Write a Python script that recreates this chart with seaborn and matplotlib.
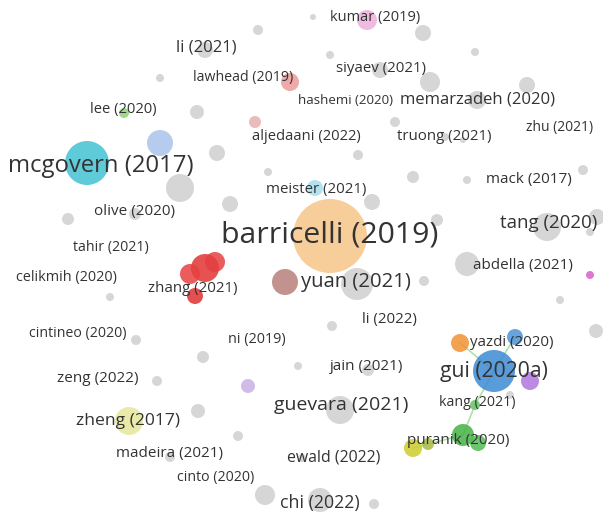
import pandas as pd
import seaborn as sns
from matplotlib import pyplot as plt

# nodes of the map: position (map units), radius, colour
node_x = [258, 313, 367, 423, 475, 205, 160, 290, 330, 380, 430, 527, 477, 395,
          124, 197, 255, 160, 87, 217, 180, 230, 268, 315, 358, 445, 463, 413,
          467, 583, 372, 68, 135, 330, 437, 547, 597, 357, 285, 424, 467, 590,
          110, 136, 203, 298, 332, 596, 248, 157, 198, 129, 238, 170, 265, 320,
          374, 302, 340, 368, 460, 515, 494, 530, 475, 463, 478, 413, 428,
          205, 190, 195, 215, 510, 590, 560]
node_y = [30, 17, 20, 33, 52, 50, 78, 82, 55, 70, 82, 85, 100, 122,
          113, 112, 122, 143, 163, 153, 188, 204, 172, 188, 155, 137, 140, 177,
          180, 170, 202, 219, 214, 236, 220, 227, 217, 284, 282, 281, 264, 275,
          297, 340, 357, 366, 326, 331, 386, 381, 411, 421, 436, 457, 495, 500,
          504, 458, 410, 370, 343, 337, 371, 381, 405, 435, 443, 448, 444,
          268, 274, 296, 262, 395, 232, 300]
node_r = [5, 3, 10, 8, 4, 8, 4, 9, 4, 8, 10, 8, 9, 5,
          5, 7, 6, 13, 22, 8, 14, 8, 4, 8, 5, 4, 3, 6,
          4, 5, 8, 6, 6, 37, 6, 14, 8, 16, 13, 5, 12, 4,
          4, 5, 6, 4, 5, 7, 7, 5, 7, 14, 5, 5, 10, 12,
          5, 4, 14, 6, 9, 8, 21, 9, 5, 11, 8, 9, 6,
          14, 10, 8, 10, 4, 4, 4]
node_color = ['#cfcfcf', '#cfcfcf', '#eeb0dc', '#cfcfcf', '#cfcfcf', '#cfcfcf', '#cfcfcf', '#ec9a9a', '#cfcfcf', '#cfcfcf', '#cfcfcf', '#cfcfcf', '#cfcfcf', '#cfcfcf',
              '#8fd07a', '#cfcfcf', '#e6b0b0', '#aac4ec', '#44c2d2', '#cfcfcf', '#cfcfcf', '#cfcfcf', '#cfcfcf', '#a6dcec', '#cfcfcf', '#cfcfcf', '#cfcfcf', '#cfcfcf',
              '#cfcfcf', '#cfcfcf', '#cfcfcf', '#cfcfcf', '#cfcfcf', '#f6c588', '#cfcfcf', '#cfcfcf', '#cfcfcf', '#cfcfcf', '#b8807a', '#cfcfcf', '#cfcfcf', '#d860c8',
              '#cfcfcf', '#cfcfcf', '#cfcfcf', '#cfcfcf', '#cfcfcf', '#cfcfcf', '#c8b0e6', '#cfcfcf', '#cfcfcf', '#e6e69a', '#cfcfcf', '#cfcfcf', '#cfcfcf', '#cfcfcf',
              '#cfcfcf', '#cfcfcf', '#cfcfcf', '#cfcfcf', '#f29232', '#4c94d6', '#3d8ad4', '#b276dc', '#66c466', '#44b244', '#52bb52', '#cccc2c', '#aabb44',
              '#e23232', '#e84040', '#e03030', '#e44040', '#cfcfcf', '#cfcfcf', '#cfcfcf']

# links between nodes (index pairs)
edges = [(62, 64), (64, 65), (65, 67), (60, 62), (61, 62)]

# labels
labels = ['kumar (2019)', 'li (2021)', 'lawhead (2019)', 'siyaev (2021)', 'hashemi (2020)',
          'memarzadeh (2020)', 'lee (2020)', 'aljedaani (2022)', 'truong (2021)', 'zhu (2021)',
          'mcgovern (2017)', 'meister (2021)', 'mack (2017)', 'olive (2020)', 'barricelli (2019)',
          'tang (2020)', 'tahir (2021)', 'abdella (2021)', 'celikmih (2020)', 'zhang (2021)',
          'yuan (2021)', 'li (2022)', 'cintineo (2020)', 'ni (2019)', 'yazdi (2020)',
          'jain (2021)', 'gui (2020a)', 'zeng (2022)', 'guevara (2021)', 'kang (2021)',
          'zheng (2017)', 'puranik (2020)', 'madeira (2021)', 'ewald (2022)', 'cinto (2020)',
          'chi (2022)']
label_x = [375, 206, 243, 381, 345, 477, 123, 306, 444, 560, 101, 316, 529, 134, 330,
           549, 111, 523, 66, 193, 356, 389, 78, 257, 512, 367, 494, 98, 341, 477,
           128, 458, 170, 334, 216, 320]
label_y = [18, 48, 78, 68, 101, 100, 110, 136, 137, 128, 166, 190, 180, 212, 235,
           223, 248, 265, 277, 289, 282, 320, 333, 339, 342, 367, 372, 378, 405, 403,
           421, 440, 453, 457, 478, 503]
label_size = [10.5, 12, 10.2, 10.8, 9.6, 12, 10.6, 10.6, 10.8, 10, 17.2, 10.8, 11, 11, 21.8,
              13.5, 10.2, 11, 10.4, 10.8, 14.6, 10.8, 10.2, 10.4, 10.8, 11, 15.2, 11, 14,
              10.2, 12.6, 11, 11, 11.4, 10.2, 12.8]

nodes = pd.DataFrame({'x': node_x, 'y': node_y, 'r': node_r, 'color': node_color})

sns.set_theme(style='white')
plt.rcParams['font.family'] = ['Open Sans', 'DejaVu Sans']

fig = plt.figure(figsize=(6.03, 5.17), dpi=100)
ax = fig.add_axes([0, 0, 1, 1])

for a, b in edges:
    ax.plot([node_x[a], node_x[b]], [node_y[a], node_y[b]], color='#9ad89a',
            lw=1.2, alpha=0.8, zorder=1)

sns.scatterplot(data=nodes, x='x', y='y', hue='color', size='r',
                palette={c: c for c in set(node_color)},
                sizes={r: (r * 1.44) ** 2 for r in set(node_r)},
                alpha=0.85, linewidth=0, legend=False, ax=ax, zorder=2)

for t, x, y, s in zip(labels, label_x, label_y, label_size):
    ax.text(x, y, t, fontsize=s, color='#333333', fontweight='medium',
            ha='center', va='center', zorder=3)

ax.set_xlim(0, 603)
ax.set_ylim(517, 0)
ax.set_axis_off()
ax.set_xlabel('')
ax.set_ylabel('')

fig.savefig('out.png', dpi=100, facecolor='white')
